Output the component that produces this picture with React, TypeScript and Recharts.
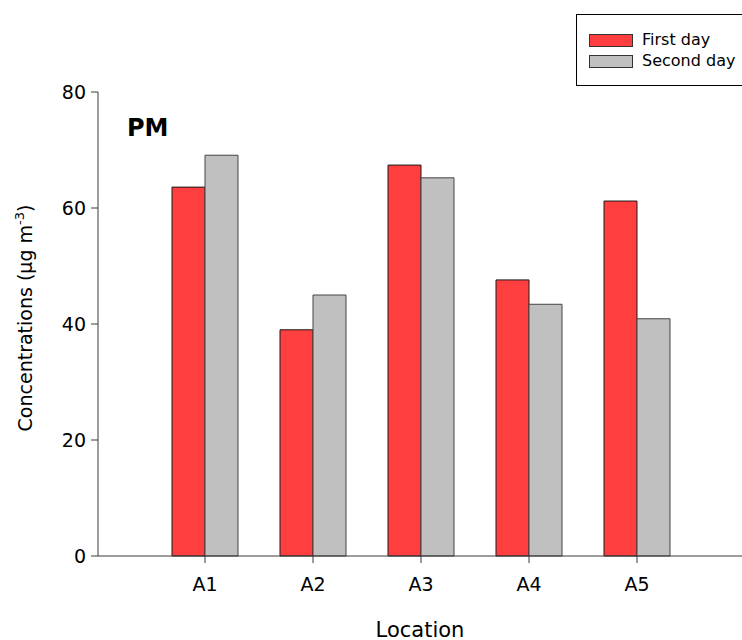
import React from "react";
import { BarChart, Bar, XAxis, YAxis } from "recharts";

const locations = ["A1", "A2", "A3", "A4", "A5"];
const firstDay = [63.6, 39.0, 67.4, 47.6, 61.2];
const secondDay = [69.1, 45.0, 65.2, 43.4, 40.9];
const yTicks = [0, 20, 40, 60, 80];

const data = locations.map((name, i) => ({
  name,
  first: firstDay[i],
  second: secondDay[i],
}));

const FONT = "'DejaVu Sans', Arial, sans-serif";
const AXIS = "#3a3a3a";

const YLabel = () => (
  <text
    x={32}
    y={318}
    transform="rotate(-90, 32, 318)"
    textAnchor="middle"
    fontFamily={FONT}
    fontSize={19}
    fill="#000"
  >
    Concentrations (μg m
    <tspan dy={-8} fontSize={13}>-3</tspan>
    <tspan dy={8}>)</tspan>
  </text>
);

const XLabel = () => (
  <text x={420} y={637} textAnchor="middle" fontFamily={FONT} fontSize={21} fill="#000">
    Location
  </text>
);

export default function App() {
  return (
    <div style={{ position: "fixed", left: 0, top: 0, width: 742, height: 640, overflow: "hidden", background: "#fff" }}>
      <style>{`html,body{margin:0;padding:0;overflow:hidden;}`}</style>
      <BarChart
        width={742}
        height={640}
        data={data}
        margin={{ top: 92, right: 0, bottom: 0, left: 0 }}
        barGap={0}
        barSize={33}
      >
        <XAxis
          xAxisId="top"
          orientation="top"
          dataKey="name"
          height={0}
          tick={false}
          tickLine={false}
          axisLine={{ stroke: AXIS, strokeWidth: 1 }}
          padding={{ left: 53, right: 51 }}
        />
        <XAxis
          dataKey="name"
          height={84}
          padding={{ left: 53, right: 51 }}
          tickSize={7}
          tickMargin={15}
          axisLine={{ stroke: AXIS, strokeWidth: 1 }}
          tickLine={{ stroke: AXIS, strokeWidth: 1 }}
          tick={{ fill: "#000", fontFamily: FONT, fontSize: 19 }}
          label={{ content: () => <XLabel /> }}
        />
        <YAxis
          width={98}
          domain={[0, 80]}
          ticks={yTicks}
          tickSize={7}
          tickMargin={5}
          axisLine={{ stroke: AXIS, strokeWidth: 1 }}
          tickLine={{ stroke: AXIS, strokeWidth: 1 }}
          tick={{ fill: "#000", fontFamily: FONT, fontSize: 19 }}
          label={{ content: () => <YLabel /> }}
        />
        <Bar dataKey="first" name="First day" fill="#ff3f3f" stroke="#1a1a1a" strokeWidth={1} isAnimationActive={false} />
        <Bar dataKey="second" name="Second day" fill="#c0c0c0" stroke="#444" strokeWidth={1} isAnimationActive={false} />
      </BarChart>
      <div
        style={{
          position: "absolute",
          left: 127,
          top: 116,
          fontFamily: FONT,
          fontWeight: "bold",
          fontSize: 24,
          color: "#000",
          lineHeight: 1,
        }}
      >
        PM
      </div>
      <div
        style={{
          position: "absolute",
          left: 576,
          top: 14,
          width: 180,
          height: 70,
          border: "1px solid #000",
          background: "#fff",
          fontFamily: FONT,
          fontSize: 16,
          color: "#000",
        }}
      >
        {[
          { label: "First day", color: "#ff3f3f", top: 18 },
          { label: "Second day", color: "#c0c0c0", top: 39 },
        ].map((it) => (
          <div key={it.label} style={{ position: "absolute", left: 12, top: it.top, display: "flex", alignItems: "center", height: 14 }}>
            <div style={{ width: 42, height: 11, background: it.color, border: "1px solid #333" }} />
            <span style={{ marginLeft: 9, whiteSpace: "nowrap", lineHeight: 1 }}>{it.label}</span>
          </div>
        ))}
      </div>
    </div>
  );
}
